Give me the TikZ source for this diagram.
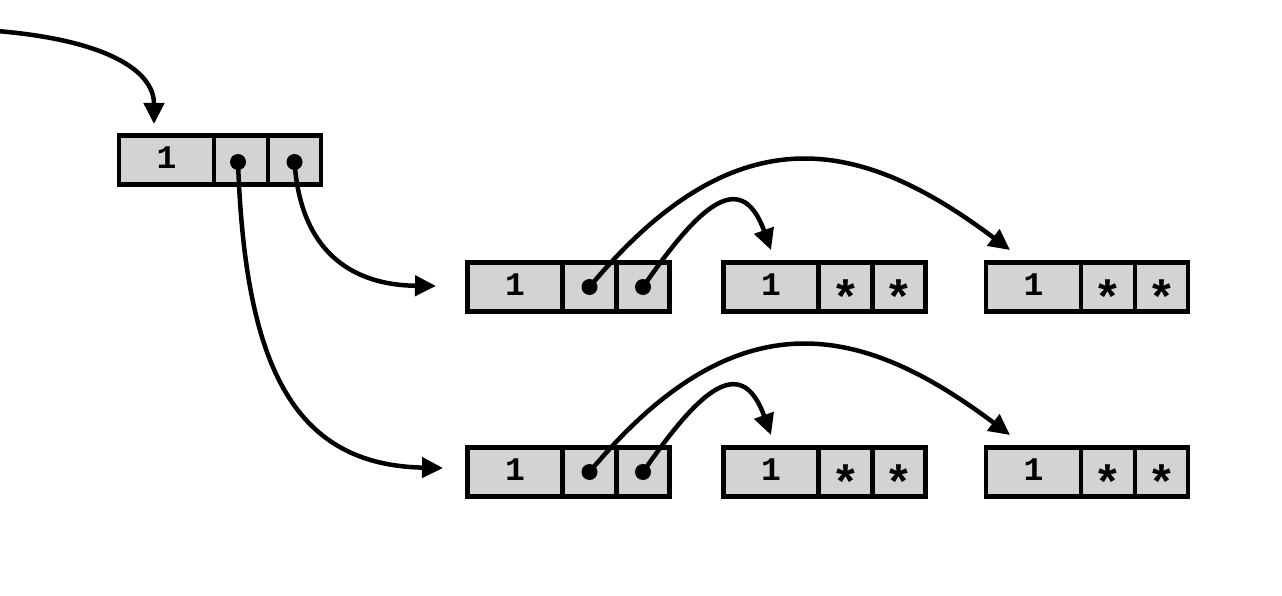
\documentclass[tikz,border=0pt]{standalone}
\usepackage{fontspec}
\setmonofont{Liberation Mono}
\usetikzlibrary{arrows.meta,calc}
\definecolor{cellgray}{RGB}{211,211,211}
\newcommand{\bigast}{\raisebox{-18.5pt}{\fontsize{48}{48}\selectfont *}}
\tikzset{
  cell/.style={draw=black, line width=4.5pt, fill=cellgray, minimum height=49pt,
    inner sep=0pt, outer sep=0pt, anchor=west, font=\ttfamily\bfseries\fontsize{33}{33}\selectfont,
    text height=17pt, text depth=0pt},
  widecell/.style={cell, minimum width=95pt},
  bcell/.style={cell, minimum width=54pt},
  ccell/.style={cell, minimum width=53pt},
  ptr/.style={line width=4.5pt, -{Triangle[length=21pt,width=20pt]}},
  dotmark/.style={fill=black}
}
\begin{document}
\begin{tikzpicture}[x=1pt,y=-1pt]
\useasboundingbox (0,0) rectangle (1282,596);

% top record
\node[widecell] (t-a) at (119,160) {1};
\node[bcell] (t-b) at (t-a.east) {};
\node[ccell] (t-c) at (t-b.east) {};
\coordinate (t-db) at ($(t-b.center)+(-3,2)$);
\coordinate (t-dc) at ($(t-c.center)+(0,2)$);

% rows
\foreach \r/\dy in {p/0,q/185}{
  \node[widecell] (\r1-a) at (467.5,287+\dy) {1};
  \node[bcell] (\r1-b) at (\r1-a.east) {};
  \node[ccell] (\r1-c) at (\r1-b.east) {};
  \node[widecell] (\r2-a) at (723.5,287+\dy) {1};
  \node[bcell] (\r2-b) at (\r2-a.east) {\bigast};
  \node[ccell] (\r2-c) at (\r2-b.east) {\bigast};
  \node[widecell] (\r3-a) at (986,287+\dy) {1};
  \node[bcell] (\r3-b) at (\r3-a.east) {\bigast};
  \node[ccell] (\r3-c) at (\r3-b.east) {\bigast};
  \coordinate (\r-db) at (\r1-b.center);
  \coordinate (\r-dc) at (\r1-c.center);
  \coordinate (\r-tolong) at ($(\r3-a.north)+(-23.5,-12.5)$);
  \coordinate (\r-toshort) at ($(\r2-a.north)+(0,-12.5)$);
  \draw[ptr] (\r-db) .. controls +(148,-178) and +(-148,-111) .. (\r-tolong);
  \draw[ptr] (\r-dc) .. controls +(52,-75) and +(-31,-86) .. (\r-toshort);
  \fill[dotmark] (\r-db) circle (8);
  \fill[dotmark] (\r-dc) circle (8);
}

% entry arrow
\coordinate (start) at (-3,31);
\coordinate (t-in) at ($(t-a.north)+(-12.5,-11.5)$);
\draw[ptr] (start) .. controls (105,40) and (154,70) .. (t-in);

% pointers from top record
\coordinate (p-in) at ($(p1-a.west)+(-31.5,-1)$);
\coordinate (q-in) at ($(q1-a.west)+(-24.5,-4)$);
\draw[ptr] (t-dc) .. controls +(6,88) and +(-86,-1) .. (p-in);
\draw[ptr] (t-db) .. controls +(7,198) and +(-153,-3) .. (q-in);
\fill[dotmark] (t-db) circle (8);
\fill[dotmark] (t-dc) circle (8);
\end{tikzpicture}
\end{document}
